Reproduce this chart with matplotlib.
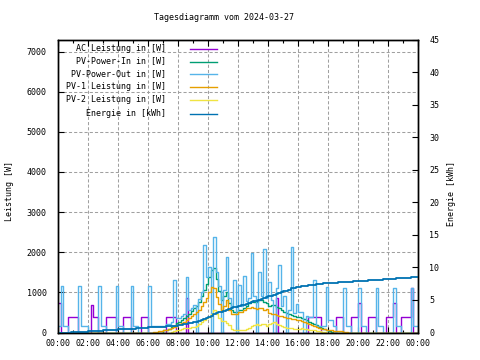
import numpy as np
import matplotlib
matplotlib.use("Agg")
import matplotlib.pyplot as plt
from matplotlib.lines import Line2D
from matplotlib.ticker import MultipleLocator, FixedLocator

plt.rcParams["font.family"] = ["DejaVu Sans Mono"]
plt.rcParams["font.size"] = 6

title = "Tagesdiagramm vom 2024-03-27"
y_label = "Leistung [W]"
y2_label = "Energie [kWh]"
x_tick_hours = [0, 2, 4, 6, 8, 10, 12, 14, 16, 18, 20, 22, 24]
x_tick_labels = ["00:00", "02:00", "04:00", "06:00", "08:00", "10:00", "12:00",
                 "14:00", "16:00", "18:00", "20:00", "22:00", "00:00"]
series_labels = ["AC Leistung in [W]", "PV-Power-In in [W]", "PV-Power-Out in [W]",
                 "PV-1 Leistung in [W]", "PV-2 Leistung in [W]", "Energie in [kWh]"]

# sampling time (minutes since midnight), 10-minute steps
slot_minutes = np.arange(0, 24 * 60 + 1, 10)

ac_w = [
    730, 0, 0, 0, 375, 375,      # 00
    375, 375, 0, 0, 0, 0,        # 01
    0, 675, 375, 375, 0, 0,      # 02
    0, 375, 375, 375, 375, 0,    # 03
    0, 0, 375, 375, 375, 0,      # 04
    0, 0, 0, 375, 375, 375,      # 05
    0, 0, 0, 0, 0, 0,            # 06
    0, 375, 375, 375, 375, 0,    # 07
    0, 0, 0, 850, 0, 0,          # 08
    0, 0, 0, 0, 0, 0,            # 09
    0, 0, 0, 0, 0, 0,            # 10
    0, 0, 0, 0, 0, 0,            # 11
    0, 0, 0, 0, 0, 0,            # 12
    0, 0, 0, 0, 0, 0,            # 13
    0, 0, 0, 850, 0, 0,          # 14
    0, 0, 0, 0, 0, 0,            # 15
    0, 0, 0, 0, 375, 375,        # 16
    375, 375, 375, 0, 0, 0,      # 17
    0, 0, 0, 375, 375, 375,      # 18
    0, 0, 0, 375, 375, 375,      # 19
    725, 0, 0, 0, 375, 375,      # 20
    375, 0, 0, 0, 0, 375,        # 21
    375, 375, 725, 0, 0, 375,    # 22
    375, 375, 375, 1100, 0, 0,   # 23
    0]

pv_in_w = [
    0, 0, 0, 0, 0, 0,
    0, 0, 0, 0, 0, 0,
    0, 0, 0, 0, 0, 0,
    0, 0, 0, 0, 0, 0,
    0, 0, 0, 0, 0, 0,
    0, 0, 0, 0, 0, 0,
    0, 0, 0, 0, 0, 0,
    50, 60, 90, 130, 170, 230,          # 07
    270, 310, 360, 410, 470, 530,       # 08
    600, 650, 750, 900, 1050, 1200,     # 09
    1380, 1550, 1600, 1330, 1040, 820,  # 10
    920, 1020, 730, 550, 510, 520,      # 11
    550, 560, 610, 670, 730, 790,       # 12
    770, 770, 800, 800, 750, 740,       # 13
    670, 680, 690, 640, 600, 550,       # 14
    520, 480, 450, 430, 410, 390,       # 15
    380, 370, 340, 300, 270, 240,       # 16
    210, 175, 130, 100, 75, 60,         # 17
    40, 20, 0, 0, 0, 0,                 # 18
    0, 0, 0, 0, 0, 0,
    0, 0, 0, 0, 0, 0,
    0, 0, 0, 0, 0, 0,
    0, 0, 0, 0, 0, 0,
    0, 0, 0, 0, 0, 0,
    0]

pv_out_w = [
    150, 1150, 150, 150, 0, 0,          # 00
    0, 0, 1150, 150, 150, 150,          # 01
    0, 0, 0, 0, 1150, 150,              # 02
    150, 0, 0, 0, 0, 1150,              # 03
    150, 150, 0, 0, 0, 1150,            # 04
    150, 150, 0, 0, 0, 0,               # 05
    1150, 150, 150, 150, 150, 150,      # 06
    150, 220, 220, 250, 1300, 350,      # 07
    350, 400, 450, 1380, 550, 620,      # 08
    680, 0, 830, 1000, 2170, 1380,      # 09
    1630, 0, 2380, 1500, 1150, 0,       # 10
    1050, 1880, 850, 650, 1300, 0,      # 11
    1175, 650, 1400, 780, 850, 1970,    # 12
    900, 0, 1500, 900, 2090, 850,       # 13
    1250, 800, 0, 1100, 1675, 650,      # 14
    900, 0, 550, 2130, 480, 700,        # 15
    500, 510, 0, 400, 380, 380,         # 16
    1300, 150, 150, 170, 150, 1130,     # 17
    300, 300, 150, 0, 0, 0,             # 18
    1100, 150, 150, 0, 0, 0,            # 19
    1100, 150, 150, 0, 0, 0,            # 20
    0, 1100, 150, 150, 0, 0,            # 21
    0, 0, 1100, 150, 150, 0,            # 22
    0, 0, 0, 1100, 150, 150,            # 23
    150]

pv1_w = [
    0, 0, 0, 0, 0, 0,
    0, 0, 0, 0, 0, 0,
    0, 0, 0, 0, 0, 0,
    0, 0, 0, 0, 0, 0,
    0, 0, 0, 0, 0, 0,
    0, 0, 0, 0, 0, 0,
    0, 0, 10, 20, 30, 40,               # 06
    50, 60, 90, 120, 140, 180,          # 07
    210, 230, 260, 300, 350, 400,       # 08
    470, 500, 550, 650, 750, 850,       # 09
    1000, 1130, 1100, 880, 700, 550,    # 10
    650, 800, 560, 470, 450, 470,       # 11
    500, 520, 560, 600, 620, 640,       # 12
    600, 580, 620, 600, 560, 580,       # 13
    480, 460, 450, 430, 420, 400,       # 14
    390, 370, 350, 340, 330, 320,       # 15
    300, 280, 260, 230, 210, 190,       # 16
    170, 140, 110, 90, 75, 65,          # 17
    55, 50, 45, 40, 35, 30,             # 18
    20, 10, 0, 0, 0, 0,                 # 19
    0, 0, 0, 0, 0, 0,
    0, 0, 0, 0, 0, 0,
    0, 0, 0, 0, 0, 0,
    0, 0, 0, 0, 0, 0,
    0]

pv2_w = [
    0, 0, 0, 0, 0, 0,
    0, 0, 0, 0, 0, 0,
    0, 0, 0, 0, 0, 0,
    0, 0, 0, 0, 0, 0,
    0, 0, 0, 0, 0, 0,
    0, 0, 0, 0, 0, 0,
    0, 0, 0, 0, 0, 0,
    0, 0, 0, 10, 30, 50,                # 07
    60, 80, 100, 110, 120, 130,         # 08
    130, 150, 200, 250, 300, 350,       # 09
    380, 450, 550, 470, 350, 280,       # 10
    280, 240, 180, 90, 70, 60,          # 11
    60, 50, 60, 80, 120, 160,           # 12
    180, 200, 190, 210, 200, 170,       # 13
    200, 230, 250, 220, 190, 160,       # 14
    140, 120, 110, 100, 90, 80,         # 15
    90, 100, 90, 80, 70, 60,            # 16
    50, 40, 25, 15, 5, 0,               # 17
    0, 0, 0, 0, 0, 0,
    0, 0, 0, 0, 0, 0,
    0, 0, 0, 0, 0, 0,
    0, 0, 0, 0, 0, 0,
    0, 0, 0, 0, 0, 0,
    0, 0, 0, 0, 0, 0,
    0]

energy_kwh = [
    0, 0, 0, 0, 0, 0.12,                      # 00
    0.12, 0.12, 0.12, 0.12, 0.12, 0.12,       # 01
    0.25, 0.25, 0.25, 0.25, 0.25, 0.25,       # 02
    0.37, 0.37, 0.37, 0.37, 0.37, 0.37,       # 03
    0.5, 0.5, 0.5, 0.5, 0.5, 0.5,             # 04
    0.5, 0.65, 0.65, 0.65, 0.65, 0.65,        # 05
    0.8, 0.8, 0.8, 0.8, 0.8, 0.8,             # 06
    0.8, 0.95, 0.95, 0.95, 0.95, 0.95,        # 07
    1.1, 1.15, 1.25, 1.3, 1.4, 1.45,          # 08
    1.55, 1.65, 1.75, 1.9, 2.1, 2.25,         # 09
    2.4, 2.6, 2.8, 2.95, 3.1, 3.2,            # 10
    3.35, 3.5, 3.6, 3.75, 3.85, 3.95,         # 11
    4.05, 4.2, 4.3, 4.45, 4.55, 4.65,         # 12
    4.8, 4.9, 5.05, 5.15, 5.3, 5.4,           # 13
    5.55, 5.65, 5.8, 5.95, 6.05, 6.2,         # 14
    6.3, 6.45, 6.6, 6.8, 6.9, 7.0,            # 15
    7.05, 7.1, 7.15, 7.2, 7.25, 7.3,          # 16
    7.35, 7.4, 7.45, 7.5, 7.55, 7.55,         # 17
    7.6, 7.6, 7.65, 7.65, 7.7, 7.7,           # 18
    7.75, 7.75, 7.8, 7.8, 7.85, 7.85,         # 19
    7.9, 7.9, 7.95, 7.95, 8.0, 8.0,           # 20
    8.05, 8.05, 8.1, 8.1, 8.15, 8.15,         # 21
    8.2, 8.25, 8.25, 8.3, 8.3, 8.35,          # 22
    8.35, 8.4, 8.4, 8.45, 8.45, 8.5,          # 23
    8.5]

colors = ["#9400d3", "#009e73", "#56b4e9", "#e69f00", "#f0e442", "#0072b2"]

W, H = 480, 360
fig = plt.figure(figsize=(W / 100, H / 100), dpi=100)
left, right, top, bottom = 58, 418, 39.5, 332.5
ax = fig.add_axes([left / W, 1 - bottom / H, (right - left) / W, (bottom - top) / H])
ax2 = ax.twinx()

t_hours = slot_minutes / 60.0
power_series = [ac_w, pv_in_w, pv_out_w, pv1_w, pv2_w]
for vals, c in zip(power_series, colors[:5]):
    ax.step(t_hours, vals, where="post", color=c, lw=1.0)
ax2.step(t_hours, energy_kwh, where="post", color=colors[5], lw=1.3)

ax.set_xlim(0, 24)
ax.set_ylim(0, 7300)
ax2.set_ylim(0, 45)

ax.xaxis.set_major_locator(FixedLocator(x_tick_hours))
ax.set_xticklabels(x_tick_labels)
ax.xaxis.set_minor_locator(MultipleLocator(1))
ax.yaxis.set_major_locator(MultipleLocator(1000))
ax2.yaxis.set_major_locator(MultipleLocator(5))

ax.tick_params(axis="x", which="both", direction="in", top=True, bottom=True, pad=5)
ax.tick_params(axis="x", which="major", length=4, width=0.8)
ax.tick_params(axis="x", which="minor", length=2, width=0.8)
ax.tick_params(axis="y", which="major", direction="in", left=True, right=False,
               length=4, width=0.8, pad=8)
ax2.tick_params(axis="y", which="major", direction="in", right=True, left=False,
                length=4, width=0.8, pad=8)

ax.grid(True, which="major", color="#a0a0a0", lw=0.75, linestyle=(0, (3, 2)))
ax.set_axisbelow(True)
for a in (ax, ax2):
    for s in a.spines.values():
        s.set_linewidth(1.0)
        s.set_color("black")

fig.text(223.5 / W, 1 - 18 / H, title, ha="center", va="center")
fig.text(10 / W, 1 - 191 / H, y_label, rotation=90, ha="center", va="center")
fig.text(452 / W, 1 - 194 / H, y2_label, rotation=90, ha="center", va="center")

legend_rows = [48.5, 61, 73.5, 86.5, 99, 113]
for lab, c, yy in zip(series_labels, colors, legend_rows):
    fig.text(166 / W, 1 - yy / H, lab, ha="right", va="center")
    fig.add_artist(Line2D([190 / W, 217 / W], [1 - (yy + 0.5) / H] * 2,
                          transform=fig.transFigure, color=c, lw=1.0))

fig.savefig("out.png", dpi=100)
